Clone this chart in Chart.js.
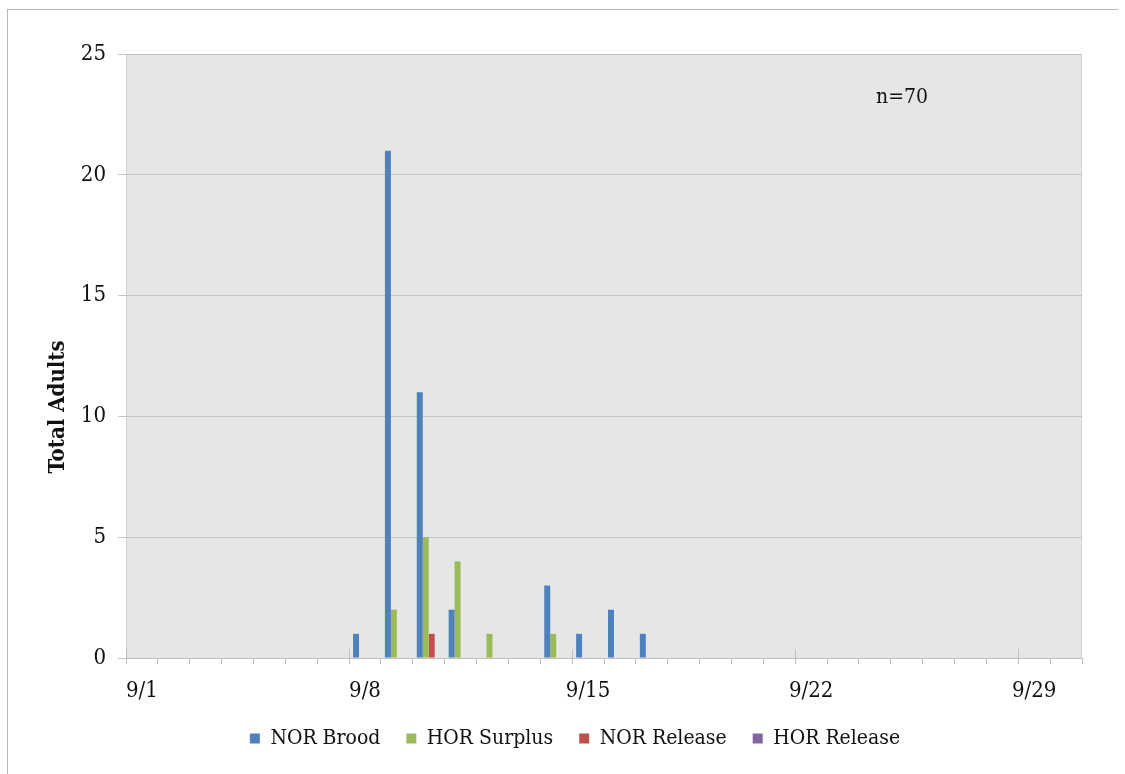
<!DOCTYPE html>
<html>
<head>
<meta charset="utf-8">
<script src="https://cdn.jsdelivr.net/npm/chart.js@4"></script>
<style>
  html, body { margin: 0; padding: 0; background: #fff; }
  #wrap { position: relative; width: 1125px; height: 774px; }
  #frame { position: absolute; left: 7px; top: 9px; right: 7px; bottom: 0;
           border-top: 1px solid #b8b8b8; border-left: 1px solid #b8b8b8; pointer-events: none; }
</style>
</head>
<body>
<div id="wrap">
  <canvas id="myChart" width="1125" height="774"></canvas>
  <div id="frame"></div>
</div>
<script>
const dias = [];
for (let d = 1; d <= 30; d++) dias.push("9/" + d);

// valores por dia (9/1 ... 9/30)
const norBrood   = [0,0,0,0,0,0,0,1,21,11,2,0,0,3,1,2,1,0,0,0,0,0,0,0,0,0,0,0,0,0];
const horSurplus = [0,0,0,0,0,0,0,0,2,5,4,1,0,1,0,0,0,0,0,0,0,0,0,0,0,0,0,0,0,0];
const norRelease = [0,0,0,0,0,0,0,0,0,1,0,0,0,0,0,0,0,0,0,0,0,0,0,0,0,0,0,0,0,0];
const horRelease = [0,0,0,0,0,0,0,0,0,0,0,0,0,0,0,0,0,0,0,0,0,0,0,0,0,0,0,0,0,0];
const yTicks = [0, 5, 10, 15, 20, 25];

const fuente = "'DejaVu Serif Condensed', 'Liberation Serif', serif";

const fondoPlot = {
  id: "fondoPlot",
  beforeDraw(chart) {
    const { ctx, chartArea: a } = chart;
    ctx.save();
    ctx.fillStyle = "#e6e6e6";
    ctx.fillRect(a.left, a.top, a.right - a.left, a.bottom - a.top);
    ctx.strokeStyle = "#d4d4d4";
    ctx.lineWidth = 1;
    ctx.beginPath();
    ctx.moveTo(a.left + 0.5, a.top);
    ctx.lineTo(a.left + 0.5, a.bottom);
    ctx.moveTo(a.right - 0.5, a.top);
    ctx.lineTo(a.right - 0.5, a.bottom);
    ctx.stroke();
    ctx.restore();
  },
  afterDraw(chart) {
    const { ctx, chartArea: a, scales } = chart;
    const x = scales.x;
    ctx.save();
    // marcas semanales que suben dentro del area
    ctx.strokeStyle = "#bfbfbf";
    ctx.lineWidth = 1;
    ctx.beginPath();
    for (let i = 0; i <= dias.length; i += 7) {
      const px = Math.round(x.getPixelForValue(i) - x.width / dias.length / 2) + 0.5;
      ctx.moveTo(px, a.bottom - 9);
      ctx.lineTo(px, a.bottom);
    }
    ctx.stroke();
    // n=70
    ctx.fillStyle = "#111";
    ctx.font = "21px " + fuente;
    ctx.textAlign = "left";
    ctx.textBaseline = "middle";
    ctx.fillText("n=70", 876, 98);
    // titulo eje y
    ctx.translate(58, 407);
    ctx.rotate(-Math.PI / 2);
    ctx.font = "bold 22px " + fuente;
    ctx.textAlign = "center";
    ctx.fillText("Total Adults", 0, 0);
    ctx.restore();
  }
};

const pintarGrafica = () => {
  new Chart(document.getElementById("myChart"), {
    type: "bar",
    data: {
      labels: dias,
      datasets: [
        { label: "NOR Brood",   data: norBrood,   backgroundColor: "#4f81bd" },
        { label: "HOR Surplus", data: horSurplus, backgroundColor: "#9bbb59" },
        { label: "NOR Release", data: norRelease, backgroundColor: "#c0504d" },
        { label: "HOR Release", data: horRelease, backgroundColor: "#8064a2" },
      ],
    },
    options: {
      responsive: false,
      animation: false,
      datasets: { bar: { categoryPercentage: 0.75, barPercentage: 1.0, borderWidth: 0 } },
      layout: { padding: { top: 54, right: 43, left: 68, bottom: 15 } },
      plugins: {
        tooltip: { enabled: false },
        legend: {
          position: "bottom",
          labels: {
            font: { family: fuente, size: 21 },
            color: "#111",
            boxWidth: 10,
            boxHeight: 10,
            padding: 26,
          },
        },
      },
      scales: {
        x: {
          offset: true,
          afterFit(s) { s.height = 44; },
          grid: { offset: true, drawOnChartArea: false, tickLength: 6, color: "#bfbfbf" },
          border: { color: "#bfbfbf" },
          ticks: {
            autoSkip: false,
            maxRotation: 0,
            padding: 14,
            color: "#111",
            font: { family: fuente, size: 22 },
            callback: (v, i) => (i % 7 === 0 ? dias[i] : ""),
          },
        },
        y: {
          min: 0,
          max: 25,
          afterFit(s) { s.width = 58; },
          afterBuildTicks(s) { s.ticks = yTicks.map(v => ({ value: v })); },
          grid: { color: "#c4c4c4", tickLength: 8 },
          border: { display: false },
          ticks: { padding: 12, color: "#111", font: { family: fuente, size: 22 } },
        },
      },
    },
    plugins: [fondoPlot],
  });
};

window.addEventListener("load", pintarGrafica);
</script>
</body>
</html>
